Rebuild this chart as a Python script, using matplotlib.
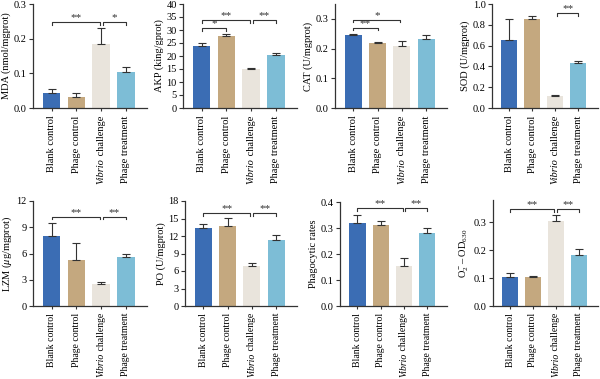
import numpy as np
import matplotlib
matplotlib.use("Agg")
import matplotlib.pyplot as plt
from matplotlib.transforms import offset_copy

plt.rcParams['font.family'] = ['Liberation Serif', 'DejaVu Serif']
plt.rcParams['mathtext.fontset'] = 'custom'
plt.rcParams['mathtext.rm'] = 'Liberation Serif'
plt.rcParams['mathtext.it'] = 'Liberation Serif:italic'
plt.rcParams['mathtext.bf'] = 'Liberation Serif:bold'

groups = ['Blank control', 'Phage control', 'Vibrio challenge', 'Phage treatment']
colors = ['#3b6db4', '#c4a87f', '#e9e4dc', '#7dbdd6']

mda = [0.043, 0.033, 0.185, 0.104]
mda_err = [0.011, 0.009, 0.045, 0.013]
akp = [23.8, 27.6, 15.0, 20.3]
akp_err = [1.3, 0.9, 0.5, 0.9]
cat = [0.245, 0.218, 0.210, 0.232]
cat_err = [0.003, 0.003, 0.017, 0.012]
sod = [0.65, 0.86, 0.12, 0.43]
sod_err = [0.21, 0.025, 0.008, 0.02]
lzm = [7.95, 5.3, 2.5, 5.6]
lzm_err = [1.5, 1.85, 0.3, 0.35]
po = [13.3, 13.8, 6.8, 11.3]
po_err = [0.8, 1.3, 0.6, 0.8]
phago = [0.32, 0.313, 0.155, 0.28]
phago_err = [0.03, 0.015, 0.028, 0.02]
o2 = [0.105, 0.103, 0.303, 0.182]
o2_err = [0.015, 0.006, 0.025, 0.022]

# (from, to, height, stars)
mda_sig = [(0, 2, 0.248, '**'), (2, 3, 0.248, '*')]
akp_sig = [(0, 1, 30.8, '*'), (0, 2, 33.8, '**'), (2, 3, 33.8, '**')]
cat_sig = [(0, 1, 0.27, '**'), (0, 2, 0.297, '*')]
sod_sig = [(2, 3, 0.913, '**')]
lzm_sig = [(0, 2, 10.2, '**'), (2, 3, 10.2, '**')]
po_sig = [(0, 2, 15.9, '**'), (2, 3, 15.9, '**')]
phago_sig = [(0, 2, 0.377, '**'), (2, 3, 0.377, '**')]
o2_sig = [(0, 2, 0.347, '**'), (2, 3, 0.347, '**')]

panels = [
    # vals, err, sig, ylabel, ylim, yticks, fmt, (left px, right px, zero px, top px)
    (mda, mda_err, mda_sig, 'MDA (nmol/mgprot)', 0.3, np.arange(0, 0.31, 0.1), '%.1f', (33, 147, 108, 4)),
    (akp, akp_err, akp_sig, 'AKP (king/gprot)', 40, np.arange(0, 41, 5), '%d', (183, 297, 108, 4)),
    (cat, cat_err, cat_sig, 'CAT (U/mgprot)', 0.35, np.arange(0, 0.31, 0.1), '%.1f', (335, 447, 108, 4)),
    (sod, sod_err, sod_sig, 'SOD (U/mgprot)', 1.0, np.arange(0, 1.01, 0.2), '%.1f', (492, 598, 108, 4)),
    (lzm, lzm_err, lzm_sig, r'LZM ($\mu$g/mgprot)', 12, np.arange(0, 13, 3), '%d', (33, 147, 306, 201)),
    (po, po_err, po_sig, 'PO (U/mgprot)', 18, np.arange(0, 19, 3), '%d', (185, 297, 306, 201)),
    (phago, phago_err, phago_sig, 'Phagocytic rates', 0.4, np.arange(0, 0.41, 0.1), '%.1f', (340, 447, 306, 202)),
    (o2, o2_err, o2_sig, r'O$_2^-$– OD$_{630}$', 0.38, np.arange(0, 0.31, 0.1), '%.1f', (493, 598, 306, 200)),
]

W, H = 600, 379
fig = plt.figure(figsize=(6, 3.79), dpi=100)
renderer = fig.canvas.get_renderer()
axcol = '#333333'
fs = 7.5
x = np.arange(4)

for vals, err, sig, ylab, ytop, yt, fmt, (L, R, y0, y1) in panels:
    ax = fig.add_axes([L / W, (H - y0) / H, (R - L) / W, (y0 - y1) / H])
    ax.bar(x, vals, width=0.7, color=colors)
    ax.errorbar(x, vals, yerr=[np.zeros(4), err], fmt='none', ecolor=axcol,
                elinewidth=0.8, capsize=3, capthick=0.8)
    ax.set_xlim(-0.75, 3.85)
    ax.set_ylim(0, ytop)
    ax.set_yticks(yt)
    ax.set_yticklabels([fmt % v for v in yt])
    ax.set_xticks(x)
    ax.set_xticklabels([])
    ax.set_ylabel(ylab, fontsize=fs, labelpad=2)
    ax.tick_params(axis='y', labelsize=fs, length=3, width=0.8, color=axcol, pad=1.5)
    ax.tick_params(axis='x', length=2, width=0.8, color=axcol)
    for s in ['top', 'right']:
        ax.spines[s].set_visible(False)
    for s in ['left', 'bottom']:
        ax.spines[s].set_linewidth(0.9)
        ax.spines[s].set_color(axcol)

    # group labels, rotated; "Vibrio" in italics
    xfs = fs if y0 < 200 else 7
    pad = 5.5 if y0 < 200 else 5
    trans = ax.get_xaxis_transform()
    for i, g in enumerate(groups):
        if g.startswith('Vibrio'):
            t = ax.text(i, 0, g[len('Vibrio'):], rotation=90, ha='center', va='top',
                        fontsize=xfs, transform=offset_copy(trans, fig=fig, y=-pad, units='points'))
            hpt = t.get_window_extent(renderer).height * 72 / fig.dpi
            ax.text(i, 0, 'Vibrio', rotation=90, ha='center', va='top', style='italic',
                    fontsize=xfs, transform=offset_copy(trans, fig=fig, y=-pad - hpt, units='points'))
        else:
            ax.text(i, 0, g, rotation=90, ha='center', va='top', fontsize=xfs,
                    transform=offset_copy(trans, fig=fig, y=-pad, units='points'))

    tick = ytop * 0.025
    for i, j, h, stars in sig:
        a = i + (0.06 if i == 2 else 0)
        b = j - (0.06 if j == 2 else 0)
        ax.plot([a, a, b, b], [h - tick, h, h, h - tick], color=axcol, lw=0.8,
                clip_on=False)
        ax.text((a + b) / 2, h, stars, ha='center', va='bottom', fontsize=8,
                color=axcol)

fig.savefig('out.png', dpi=100)
